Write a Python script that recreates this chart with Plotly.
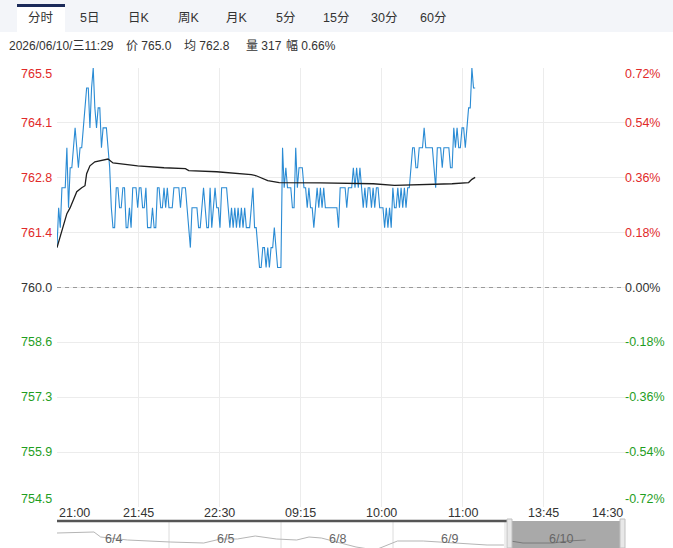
import plotly.graph_objects as go

# ---------------- data ----------------
price = [
    761.0, 762.0, 761.5, 762.5, 762.5, 762.5, 763.5, 762.0, 763.0, 763.0,
    763.5, 764.0, 763.5, 763.0, 763.5, 763.5, 764.0, 764.5, 765.0, 765.0,
    764.0, 765.0, 765.5, 764.5, 764.0, 764.5, 764.5, 763.5, 764.0, 764.0,
    764.0, 763.5, 763.0, 762.0, 761.5, 761.5, 762.5, 762.5, 762.0, 762.0,
    762.5, 762.5, 761.5, 761.5, 762.0, 761.5, 762.5, 762.5, 762.5, 762.0,
    762.5, 762.5, 762.0, 762.0, 762.5, 761.5, 761.5, 761.5, 762.0, 761.5,
    761.5, 762.5, 762.5, 762.0, 762.0, 762.5, 762.0, 762.5, 762.0, 762.0,
    762.0, 762.5, 762.5, 762.5, 762.5, 762.0, 762.5, 762.5, 762.5, 762.0,
    761.5, 761.0, 762.0, 762.0, 762.0, 762.0, 761.5, 761.5, 762.0, 762.5,
    762.0, 761.5, 761.5, 762.5, 761.5, 762.0, 762.5, 762.0, 762.0, 761.5,
    762.5, 762.5, 762.5, 762.5, 762.0, 761.5, 762.0, 761.5, 762.0, 761.5,
    762.0, 761.5, 762.0, 761.5, 762.0, 761.5, 761.5, 761.5, 762.0, 762.5,
    761.5, 761.5, 761.0, 760.5, 760.5, 761.0, 761.0, 760.5, 761.0, 760.5,
    761.0, 761.0, 761.5, 761.0, 760.5, 760.5, 760.5, 763.5, 762.5, 763.0,
    762.5, 762.5, 762.5, 762.0, 762.0, 763.5, 762.5, 763.0, 763.0, 763.0,
    762.5, 762.5, 762.0, 762.5, 762.0, 762.0, 761.5, 762.0, 762.5, 762.0,
    762.5, 762.0, 762.5, 762.0, 762.0, 762.0, 762.0, 762.0, 762.0, 762.0,
    762.0, 761.5, 762.5, 762.5, 762.5, 762.5, 762.0, 762.5, 762.5, 762.5,
    763.0, 762.5, 763.0, 762.5, 763.0, 762.5, 762.0, 762.5, 762.0, 762.5,
    762.5, 762.0, 762.5, 762.0, 762.5, 762.5, 762.0, 762.0, 762.0, 761.5,
    762.0, 761.5, 762.0, 761.5, 762.5, 762.0, 762.0, 762.5, 762.0, 762.5,
    762.0, 762.5, 762.0, 762.5, 762.5, 763.0, 763.5, 763.5, 763.0, 763.0,
    763.5, 763.5, 763.5, 764.0, 763.5, 763.5, 763.5, 763.5, 763.5, 763.0,
    762.5, 763.5, 763.5, 763.5, 763.0, 763.5, 763.5, 763.5, 763.5, 763.0,
    763.0, 764.0, 763.5, 764.0, 763.5, 763.5, 764.0, 764.0, 763.5, 764.0,
    764.5, 764.5, 765.5, 765.0, 765.0,
]
minutes = list(range(len(price)))

avg_minute = [0, 2, 4, 6, 8, 10, 12, 15, 17, 18, 20, 23, 28, 31, 34, 38, 49, 65,
              78, 80, 97, 118, 121, 128, 135, 160, 192, 205, 220, 240, 250, 252, 254]
avg_value = [761.0, 761.3, 761.55, 761.85, 762.0, 762.2, 762.4, 762.5, 762.55, 762.85,
             763.05, 763.15, 763.2, 763.22, 763.12, 763.1, 763.05, 763.0,
             762.98, 762.93, 762.9, 762.83, 762.8, 762.68, 762.63, 762.62, 762.6,
             762.56, 762.57, 762.6, 762.63, 762.71, 762.76]

session_minutes = 345
x_labels = ["21:00", "21:45", "22:30", "09:15", "10:00", "11:00", "13:45", "14:30"]

prev_close = 760.0
y_min, y_max = 754.5, 765.5
left_labels = ["754.5", "755.9", "757.3", "758.6", "760.0", "761.4", "762.8", "764.1", "765.5"]
right_labels = ["-0.72%", "-0.54%", "-0.36%", "-0.18%", "0.00%", "0.18%", "0.36%", "0.54%", "0.72%"]

tabs = ["分时", "5日", "日K", "周K", "月K", "5分", "15分", "30分", "60分"]
info_parts = ["2026/06/10/三11:29", "价 765.0", "均 762.8", "量 317", "幅 0.66%"]

nav_days = ["6/4", "6/5", "6/8", "6/9", "6/10"]
nav_pos = [0.0, 0.33, 0.39, 0.63, 1.01, 1.31, 1.46, 1.61, 1.77, 1.96, 2.14, 2.25, 2.36,
           2.52, 2.67, 2.84, 3.04, 3.27, 3.58, 3.84, 3.99]
nav_price = [774, 775, 770, 767, 765, 764, 768, 768, 771, 768, 767, 770, 769,
             764, 760, 757, 766, 766, 764, 762, 762]
nav_today_pos = [4.05, 4.16, 4.43, 4.56, 4.72]
nav_today_price = [766, 764, 764, 766, 767]

# ---------------- layout helpers ----------------
W, H = 673, 548
def PX(px):
    return px / W
def PY(py):
    return 1 - py / H

RED = "#e12a2a"
GREEN = "#1f9e1f"
GRAY = "#333333"
NUM_FONT = "Liberation Sans, Arial, Noto Sans CJK SC"

n_lab = len(x_labels)
x_grid = [session_minutes * k / (n_lab - 1) for k in range(n_lab)]
step = (y_max - y_min) / (len(left_labels) - 1)
y_ticks = [y_min + step * k for k in range(len(left_labels))]
nav_span = (625 - 57) / 112.0  # navigator day width ~112px

fig = go.Figure()
fig.add_trace(go.Scatter(x=minutes, y=price, mode="lines",
                         line=dict(color="#2a8bd4", width=1.1), hoverinfo="skip"))
fig.add_trace(go.Scatter(x=avg_minute, y=avg_value, mode="lines",
                         line=dict(color="#1e1e1e", width=1.3), hoverinfo="skip"))
fig.add_trace(go.Scatter(x=nav_pos, y=nav_price, mode="lines", xaxis="x2", yaxis="y2",
                         line=dict(color="#b5b5b5", width=1), hoverinfo="skip"))
fig.add_trace(go.Scatter(x=nav_today_pos, y=nav_today_price, mode="lines", xaxis="x2", yaxis="y2",
                         line=dict(color="#7a7a7a", width=1), hoverinfo="skip"))

shapes = []
# tab bar
shapes.append(dict(type="rect", xref="paper", yref="paper", x0=0, x1=1, y0=PY(32), y1=1,
                   fillcolor="#f3f5f9", line=dict(width=0), layer="below"))
shapes.append(dict(type="rect", xref="paper", yref="paper", x0=PX(17), x1=PX(65), y0=PY(32), y1=PY(4),
                   fillcolor="#ffffff", line=dict(width=0), layer="below"))
shapes.append(dict(type="rect", xref="paper", yref="paper", x0=PX(17), x1=PX(65), y0=PY(7), y1=PY(4),
                   fillcolor="#1c2b5a", line=dict(width=0), layer="below"))
# zero (previous close) dashed line
shapes.append(dict(type="line", xref="paper", yref="y", x0=PX(57), x1=PX(625), y0=prev_close, y1=prev_close,
                   line=dict(color="#9a9a9a", width=1, dash="4px,4px")))
# navigator separators
for d in range(1, len(nav_days)):
    shapes.append(dict(type="line", xref="x2", yref="paper", x0=d, x1=d, y0=0, y1=PY(522),
                       line=dict(color="#dcdcdc", width=1), layer="below"))
# navigator selection
shapes.append(dict(type="rect", xref="paper", yref="paper", x0=PX(512), x1=PX(620), y0=0, y1=PY(521),
                   fillcolor="#a9a9a9", line=dict(width=0), layer="below"))
shapes.append(dict(type="line", xref="paper", yref="paper", x0=PX(57), x1=PX(507), y0=PY(521), y1=PY(521),
                   line=dict(color="#555555", width=2.5)))
for hx0, hx1 in [(507, 512), (620, 625)]:
    shapes.append(dict(type="rect", xref="paper", yref="paper", x0=PX(hx0), x1=PX(hx1), y0=0, y1=PY(519),
                       fillcolor="#e8e8e8", line=dict(color="#c0c0c0", width=1)))

ann = []
# tabs
tab_x = [41, 89, 139, 189, 237, 285, 336, 384, 433]
for t, tx in zip(tabs, tab_x):
    ann.append(dict(text=t, x=PX(tx), y=PY(18), xref="paper", yref="paper", showarrow=False,
                    xanchor="center", yanchor="middle", font=dict(family=NUM_FONT, size=12.5, color=GRAY)))
# info line
info_x = [7, 124, 182, 244, 284]
for t, tx in zip(info_parts, info_x):
    ann.append(dict(text=t, x=PX(tx), y=PY(46), xref="paper", yref="paper", showarrow=False,
                    xanchor="left", yanchor="middle", font=dict(family=NUM_FONT, size=12, color=GRAY)))
# y labels
for i, (v, ll, rl) in enumerate(zip(y_ticks, left_labels, right_labels)):
    col = RED if v > prev_close + 1e-9 else (GREEN if v < prev_close - 1e-9 else GRAY)
    ys = -6 if i == len(y_ticks) - 1 else (8 if i == 0 else 0)
    ann.append(dict(text=ll, x=PX(54), y=v, xref="paper", yref="y", showarrow=False, yshift=ys,
                    xanchor="right", yanchor="middle", font=dict(family=NUM_FONT, size=12.5, color=col)))
    ann.append(dict(text=rl, x=PX(623), y=v, xref="paper", yref="y", showarrow=False, yshift=ys,
                    xanchor="left", yanchor="middle", font=dict(family=NUM_FONT, size=12.5, color=col)))
# x labels
for i, (g, lab) in enumerate(zip(x_grid, x_labels)):
    xa = "left" if i == 0 else ("right" if i == n_lab - 1 else "center")
    ann.append(dict(text=lab, x=g, y=PY(513), xref="x", yref="paper", showarrow=False,
                    xanchor=xa, yanchor="middle", font=dict(family=NUM_FONT, size=12.5, color=GRAY)))
# navigator day labels
for d, lab in enumerate(nav_days):
    ann.append(dict(text=lab, x=d + 0.5, y=PY(539), xref="x2", yref="paper", showarrow=False,
                    xanchor="center", yanchor="middle", font=dict(family=NUM_FONT, size=12.5, color="#666666")))

fig.update_layout(
    width=W, height=H, margin=dict(l=0, r=0, t=0, b=0),
    paper_bgcolor="#ffffff", plot_bgcolor="rgba(0,0,0,0)", showlegend=False,
    xaxis=dict(domain=[PX(57), PX(625)], range=[0, session_minutes], tickvals=x_grid[1:-1],
               showticklabels=False, showgrid=True, gridcolor="#ececec", gridwidth=1,
               zeroline=False, showline=False, ticks="", fixedrange=True),
    yaxis=dict(domain=[PY(507), PY(68)], range=[y_min, y_max], tickvals=y_ticks,
               showticklabels=False, showgrid=True, gridcolor="#ececec", gridwidth=1,
               zeroline=False, showline=False, ticks="", fixedrange=True),
    xaxis2=dict(domain=[PX(57), PX(625)], range=[0, nav_span], visible=False, anchor="y2", fixedrange=True),
    yaxis2=dict(domain=[0, PY(523)], range=[759, 784], visible=False, anchor="x2", fixedrange=True),
    shapes=shapes, annotations=ann,
)

fig.write_html("out.html", config={"displayModeBar": False})
